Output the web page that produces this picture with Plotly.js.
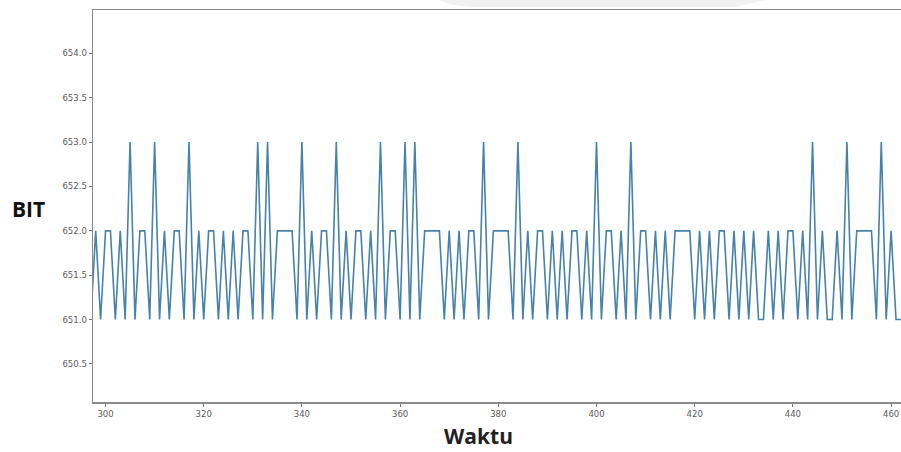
<!DOCTYPE html>
<html>
<head>
<meta charset="utf-8">
<script src="https://cdn.plot.ly/plotly-3.0.1.min.js"></script>
<style>
  html, body { margin: 0; padding: 0; background: #ffffff; overflow: hidden; width: 901px; height: 452px; }
  #chart { width: 910px; height: 452px; }
</style>
</head>
<body>
<div id="chart"></div>
<script>
// ---- data ----
var waktuStart = 297;
var bitValues = [
  651,652,651,652,652,651,652,651,653,651,
  652,652,651,653,651,652,651,652,652,651,
  653,651,652,651,652,652,651,652,651,652,
  651,652,652,651,653,651,653,651,652,652,
  652,652,651,653,651,652,651,652,652,651,
  653,651,652,651,652,652,651,652,651,653,
  651,652,652,651,653,651,653,651,652,652,
  652,652,651,652,651,652,651,652,652,651,
  653,651,652,652,652,652,651,653,651,652,
  651,652,652,651,652,651,652,651,652,652,
  651,652,651,653,651,652,652,651,652,651,
  653,651,652,652,651,652,651,652,651,652,
  652,652,652,651,652,651,652,651,652,652,
  651,652,651,652,651,652,651,651,652,651,
  652,651,652,652,651,652,651,653,651,652,
  651,651,652,651,653,651,652,652,652,652,
  651,653,651,652,651,651
];
var xTickVals = [300, 320, 340, 360, 380, 400, 420, 440, 460];
var yTickVals = [650.5, 651.0, 651.5, 652.0, 652.5, 653.0, 653.5, 654.0];
var xLabel = "Waktu";
var yLabel = "BIT";

var waktu = bitValues.map(function (v, i) { return waktuStart + i; });

// ---- layout helpers (pixel -> paper) ----
var W = 910, H = 452;
var M = { l: 93, r: 0, t: 10, b: 50 };
function px(x) { return (x - M.l) / (W - M.l - M.r); }
function py(y) { return (H - M.b - y) / (H - M.t - M.b); }

var trace = {
  x: waktu,
  y: bitValues,
  type: 'scatter',
  mode: 'lines',
  line: { color: '#4682aa', width: 1.6 },
  hoverinfo: 'x+y'
};

var tickFont = { family: 'DejaVu Sans, sans-serif', size: 8.5, color: '#5a5a5a' };

var layout = {
  width: W,
  height: H,
  margin: M,
  paper_bgcolor: '#ffffff',
  plot_bgcolor: '#ffffff',
  showlegend: false,
  xaxis: {
    range: [297.45, 463.85],
    tickvals: xTickVals,
    ticktext: xTickVals.map(String),
    ticks: 'outside',
    ticklen: 3,
    tickwidth: 1,
    tickcolor: '#777777',
    tickfont: tickFont,
    showgrid: false,
    zeroline: false,
    showline: true,
    linecolor: '#8a8a8a',
    linewidth: 1.5,
    mirror: true
  },
  yaxis: {
    range: [650.07, 654.49],
    tickvals: yTickVals,
    ticktext: yTickVals.map(function (v) { return v.toFixed(1); }),
    ticks: 'outside',
    ticklen: 3,
    tickwidth: 1,
    tickcolor: '#777777',
    tickfont: tickFont,
    showgrid: false,
    zeroline: false,
    showline: true,
    linecolor: '#8a8a8a',
    linewidth: 1.5,
    mirror: false
  },
  annotations: [
    {
      text: '<b>' + yLabel + '</b>',
      xref: 'paper', yref: 'paper',
      x: px(28), y: py(209),
      xanchor: 'center', yanchor: 'middle',
      showarrow: false,
      font: { family: 'Open Sans, sans-serif', size: 21, color: '#111111' }
    },
    {
      text: '<b>' + xLabel + '</b>',
      xref: 'paper', yref: 'paper',
      x: px(478), y: py(436),
      xanchor: 'center', yanchor: 'middle',
      showarrow: false,
      font: { family: 'Open Sans, sans-serif', size: 21, color: '#222222' }
    }
  ],
  shapes: [
    {
      type: 'path',
      xref: 'paper', yref: 'paper',
      path: 'M ' + px(440) + ' ' + py(0) +
            ' Q ' + px(452) + ' ' + py(7) + ' ' + px(480) + ' ' + py(7) +
            ' L ' + px(735) + ' ' + py(7) +
            ' L ' + px(765) + ' ' + py(0) + ' Z',
      fillcolor: '#f1f1f1',
      line: { width: 0 },
      layer: 'below'
    }
  ]
};

Plotly.newPlot('chart', [trace], layout, { displayModeBar: false, staticPlot: true });
</script>
</body>
</html>
